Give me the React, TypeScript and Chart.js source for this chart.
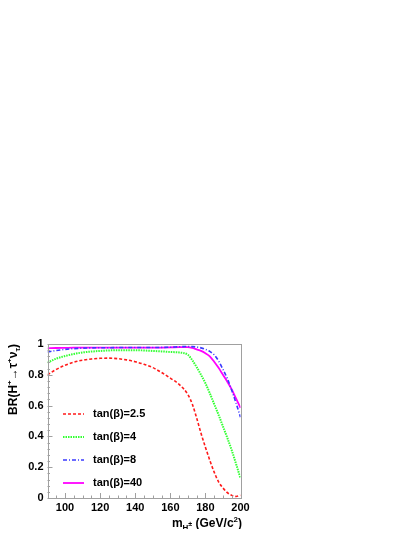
import React, { useEffect, useRef } from "react";
import { Chart, registerables } from "chart.js";

Chart.register(...registerables);

// ---- data ----
const masses = [90, 95, 100, 105, 110, 115, 120, 125, 130, 135, 140, 145, 150, 155, 160, 165, 170, 172.5, 175, 177.5, 180, 182.5, 185, 187.5, 190, 192.5, 195, 197.5, 200];
const brTan2p5 = [0.8, 0.835, 0.862, 0.882, 0.895, 0.903, 0.907, 0.908, 0.905, 0.897, 0.885, 0.868, 0.847, 0.815, 0.778, 0.738, 0.672, 0.61, 0.52, 0.42, 0.33, 0.245, 0.168, 0.105, 0.065, 0.035, 0.017, 0.01, 0.018];
const brTan4 = [0.879, 0.905, 0.922, 0.935, 0.945, 0.951, 0.955, 0.958, 0.96, 0.96, 0.96, 0.958, 0.955, 0.952, 0.948, 0.945, 0.93, 0.895, 0.85, 0.8, 0.745, 0.68, 0.61, 0.54, 0.465, 0.39, 0.31, 0.22, 0.128];
const brTan8 = [0.948, 0.958, 0.965, 0.97, 0.973, 0.975, 0.976, 0.976, 0.977, 0.977, 0.977, 0.977, 0.977, 0.978, 0.979, 0.982, 0.984, 0.983, 0.98, 0.975, 0.966, 0.952, 0.93, 0.89, 0.835, 0.775, 0.7, 0.615, 0.525];
const brTan40 = [0.972, 0.974, 0.975, 0.976, 0.976, 0.976, 0.976, 0.976, 0.976, 0.976, 0.976, 0.976, 0.977, 0.977, 0.978, 0.98, 0.98, 0.975, 0.965, 0.955, 0.94, 0.92, 0.885, 0.845, 0.8, 0.755, 0.705, 0.645, 0.585];
const seriesLabels = ["tan(\u03b2)=2.5", "tan(\u03b2)=4", "tan(\u03b2)=8", "tan(\u03b2)=40"];

const xTickValues = [100, 120, 140, 160, 180, 200];
const xTickLabels = ["100", "120", "140", "160", "180", "200"];
const yTickValues = [0, 0.2, 0.4, 0.6, 0.8, 1];
const yTickLabels = ["0", "0.2", "0.4", "0.6", "0.8", "1"];
const xMinorStep = 5;
const yMinorStep = 0.04;
const xRange = [90, 200];
const yRange = [0, 1];

const FONT = "'Liberation Sans', Arial, Helvetica, sans-serif";
const FRAME = "#a0a0a0";

type Seg = { t: string; k: "n" | "sup" | "sub" | "subsup" };

function segFont(k: Seg["k"]) {
  if (k === "n") return `bold 12px ${FONT}`;
  if (k === "subsup") return `bold 7px ${FONT}`;
  return `bold 8px ${FONT}`;
}
function segDy(k: Seg["k"]) {
  if (k === "sup") return -5;
  if (k === "sub") return 3;
  if (k === "subsup") return -1;
  return 0;
}
function drawRich(ctx: CanvasRenderingContext2D, segs: Seg[], xEnd: number, y: number) {
  let w = 0;
  for (const s of segs) {
    ctx.font = segFont(s.k);
    w += ctx.measureText(s.t).width;
  }
  let x = xEnd - w;
  ctx.textAlign = "left";
  ctx.textBaseline = "alphabetic";
  ctx.fillStyle = "#000";
  for (const s of segs) {
    ctx.font = segFont(s.k);
    ctx.fillText(s.t, x, y + segDy(s.k));
    x += ctx.measureText(s.t).width;
  }
}

const yTitle: Seg[] = [
  { t: "BR(H", k: "n" },
  { t: "+", k: "sup" },
  { t: "\u2192\u03c4", k: "n" },
  { t: "+", k: "sup" },
  { t: "\u03bd", k: "n" },
  { t: "\u03c4", k: "sub" },
  { t: ")", k: "n" },
];
const xTitle: Seg[] = [
  { t: "m", k: "n" },
  { t: "H", k: "sub" },
  { t: "\u00b1", k: "subsup" },
  { t: " (GeV/c", k: "n" },
  { t: "2", k: "sup" },
  { t: ")", k: "n" },
];

const decorPlugin = {
  id: "decor",
  afterDraw(chart: any) {
    const ctx: CanvasRenderingContext2D = chart.ctx;
    const { left, right, top, bottom } = chart.chartArea;
    const xs = chart.scales.x;
    const ys = chart.scales.y;
    ctx.save();
    // frame
    ctx.strokeStyle = FRAME;
    ctx.lineWidth = 1;
    ctx.strokeRect(Math.round(left) + 0.5, Math.round(top) + 0.5, Math.round(right - left), Math.round(bottom - top));
    // ticks
    ctx.beginPath();
    for (let v = xRange[0]; v <= xRange[1] + 1e-9; v += xMinorStep) {
      const px = Math.round(xs.getPixelForValue(v)) + 0.5;
      const major = xTickValues.includes(v);
      const len = major ? 5 : 2.5;
      ctx.moveTo(px, bottom);
      ctx.lineTo(px, bottom - len);
    }
    for (let v = yRange[0]; v <= yRange[1] + 1e-9; v += yMinorStep) {
      const py = Math.round(ys.getPixelForValue(v)) + 0.5;
      const major = yTickValues.some((t) => Math.abs(t - v) < 1e-6);
      const len = major ? 5 : 2.5;
      ctx.moveTo(left, py);
      ctx.lineTo(left + len, py);
    }
    ctx.stroke();

    // legend
    const legendY = [406, 429, 452, 475];
    chart.data.datasets.forEach((ds: any, i: number) => {
      const y = legendY[i];
      ctx.strokeStyle = ds.borderColor;
      ctx.lineWidth = ds.borderWidth;
      ctx.setLineDash(ds.borderDash || []);
      ctx.beginPath();
      ctx.moveTo(55, y);
      ctx.lineTo(76, y);
      ctx.stroke();
      ctx.setLineDash([]);
      ctx.fillStyle = "#000";
      ctx.font = `bold 11px ${FONT}`;
      ctx.textAlign = "left";
      ctx.textBaseline = "middle";
      ctx.fillText(ds.label, 85, y);
    });

    // x title
    drawRich(ctx, xTitle, 234, 519);
    // y title (rotated)
    ctx.save();
    ctx.translate(8.5, 336);
    ctx.rotate(-Math.PI / 2);
    drawRich(ctx, yTitle, 0, 0);
    ctx.restore();

    ctx.restore();
  },
};

export default function App() {
  const ref = useRef<HTMLCanvasElement>(null);
  useEffect(() => {
    if (!ref.current) return;
    const mk = (vals: number[]) => masses.map((m, i) => ({ x: m, y: vals[i] }));
    const chart = new Chart(ref.current, {
      type: "line",
      data: {
        datasets: [
          { label: seriesLabels[0], data: mk(brTan2p5), borderColor: "#ff1a1a", borderWidth: 1.6, borderDash: [3, 2] },
          { label: seriesLabels[1], data: mk(brTan4), borderColor: "#33ff33", borderWidth: 2, borderDash: [1.5, 1] },
          { label: seriesLabels[2], data: mk(brTan8), borderColor: "#3a3aff", borderWidth: 1.6, borderDash: [4, 2, 1, 2] },
          { label: seriesLabels[3], data: mk(brTan40), borderColor: "#ff00ff", borderWidth: 1.8, borderDash: [] },
        ],
      },
      options: {
        animation: false,
        responsive: true,
        maintainAspectRatio: false,
        devicePixelRatio: 1,
        elements: { point: { radius: 0 }, line: { cubicInterpolationMode: "monotone", fill: false } },
        layout: { padding: { left: 0, top: 336, right: 166.5, bottom: 0 } },
        plugins: { legend: { display: false }, tooltip: { enabled: false }, title: { display: false } },
        scales: {
          x: {
            type: "linear",
            min: xRange[0],
            max: xRange[1],
            grid: { display: false, drawTicks: false },
            border: { display: false },
            afterBuildTicks: (s: any) => { s.ticks = xTickValues.map((v) => ({ value: v })); },
            afterFit: (s: any) => { s.height = 31; },
            ticks: {
              padding: 3,
              color: "#000",
              font: { family: FONT, size: 11, weight: "bold" },
              maxRotation: 0,
              autoSkip: false,
              callback: (v: any) => { const i = xTickValues.indexOf(Number(v)); return i >= 0 ? xTickLabels[i] : ""; },
            },
          },
          y: {
            type: "linear",
            min: yRange[0],
            max: yRange[1],
            grid: { display: false, drawTicks: false },
            border: { display: false },
            afterBuildTicks: (s: any) => { s.ticks = yTickValues.map((v) => ({ value: v })); },
            afterFit: (s: any) => { s.width = 39.5; },
            ticks: {
              padding: 4,
              color: "#000",
              font: { family: FONT, size: 11, weight: "bold" },
              autoSkip: false,
              callback: (v: any) => { const i = yTickValues.findIndex((t) => Math.abs(t - Number(v)) < 1e-6); return i >= 0 ? yTickLabels[i] : ""; },
            },
          },
        },
      },
      plugins: [decorPlugin],
    } as any);
    return () => chart.destroy();
  }, []);
  return (
    <div style={{ width: 399, height: 521, position: "relative" }}>
      <canvas ref={ref} style={{ display: "block" }} />
    </div>
  );
}
